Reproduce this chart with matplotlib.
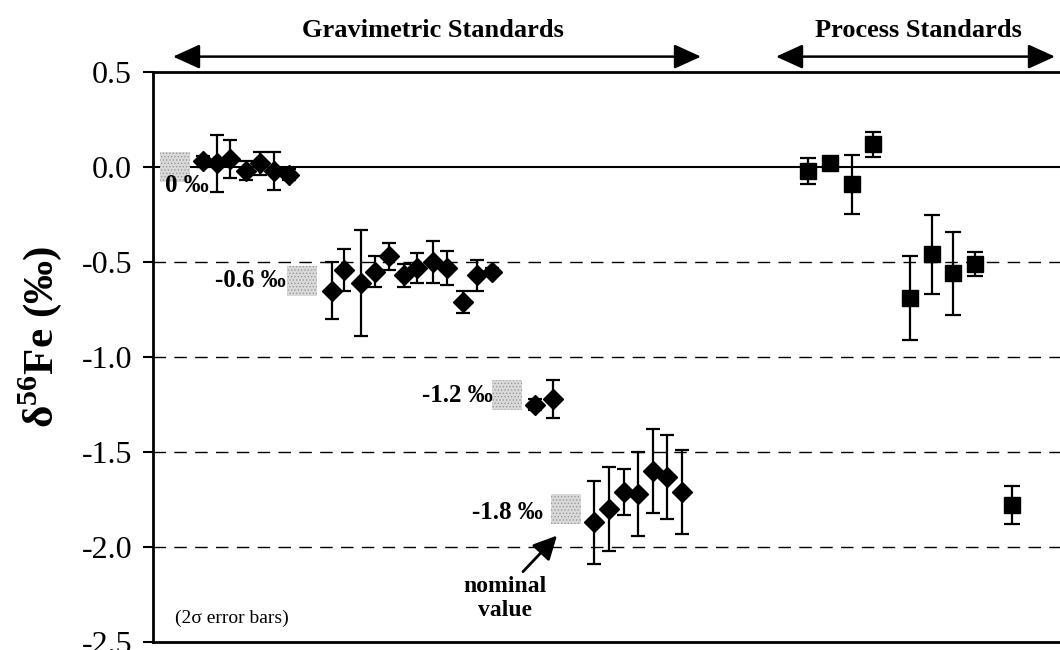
import numpy as np
import matplotlib
matplotlib.use("Agg")
import matplotlib.pyplot as plt

# データ ---------------------------------------------------------------
# x は測定順の位置 (任意単位)
x_g0 = [5.0, 6.4, 7.7, 9.3, 10.7, 12.1, 13.6]
y_g0 = [0.03, 0.02, 0.04, -0.02, 0.02, -0.02, -0.04]
e_g0 = [0.03, 0.15, 0.10, 0.05, 0.06, 0.10, 0.03]

x_g06 = [17.9, 19.1, 20.8, 22.2, 23.6, 25.1, 26.4, 28.0, 29.4, 31.0, 32.4, 33.9]
y_g06 = [-0.65, -0.54, -0.61, -0.55, -0.47, -0.57, -0.53, -0.50, -0.53, -0.71, -0.57, -0.55]
e_g06 = [0.15, 0.11, 0.28, 0.08, 0.07, 0.06, 0.08, 0.11, 0.09, 0.06, 0.08, 0.02]

x_g12 = [38.2, 40.0]
y_g12 = [-1.25, -1.22]
e_g12 = [0.03, 0.10]

x_g18 = [44.1, 45.6, 47.1, 48.5, 50.0, 51.4, 52.9]
y_g18 = [-1.87, -1.80, -1.71, -1.72, -1.60, -1.63, -1.71]
e_g18 = [0.22, 0.22, 0.12, 0.22, 0.22, 0.22, 0.22]

x_proc = [65.5, 67.7, 69.9, 72.0, 75.7, 77.9, 80.0, 82.2, 85.9]
y_proc = [-0.02, 0.02, -0.09, 0.12, -0.69, -0.46, -0.56, -0.51, -1.78]
e_proc = [0.07, 0.02, 0.155, 0.065, 0.22, 0.21, 0.22, 0.065, 0.10]

# 公称値 (nominal value)
x_nom = [2.2, 14.9, 35.4, 41.3]
y_nom = [0.0, -0.6, -1.2, -1.8]
nom_labels = ["0 ‰", "-0.6 ‰", "-1.2 ‰", "-1.8 ‰"]

yticks = [0.5, 0.0, -0.5, -1.0, -1.5, -2.0, -2.5]
dash_levels = [-0.5, -1.0, -1.5, -2.0]

# 体裁 ---------------------------------------------------------------
plt.rcParams['font.family'] = ['Liberation Serif', 'DejaVu Serif']
plt.rcParams['mathtext.fontset'] = 'custom'
plt.rcParams['mathtext.rm'] = 'Liberation Serif'
plt.rcParams['mathtext.bf'] = 'Liberation Serif:bold'
plt.rcParams['hatch.linewidth'] = 0.6

fig = plt.figure(figsize=(10.6, 6.5), dpi=100)
ax = fig.add_axes([153 / 1060, 8 / 650, 907 / 1060, 570 / 650])
ax.set_xlim(0, 90.7)
ax.set_ylim(-2.5, 0.5)

ax.axhline(0.0, color='black', lw=1.5, zorder=1)
for lev in dash_levels:
    ax.axhline(lev, color='black', lw=1.0, dashes=(9, 6), zorder=1)

# 公称値の四角
ax.scatter(x_nom, y_nom, marker='s', s=21 ** 2, facecolor='#d9d9d9',
           edgecolor='#9a9a9a', hatch='.....', linewidths=0, zorder=2)

ebkw = dict(fmt='D', color='black', ms=10.5, elinewidth=1.6, capsize=5,
            capthick=1.6, zorder=3)
for xs, ys, es in [(x_g0, y_g0, e_g0), (x_g06, y_g06, e_g06),
                   (x_g12, y_g12, e_g12), (x_g18, y_g18, e_g18)]:
    ax.errorbar(xs, ys, yerr=es, **ebkw)

ax.errorbar(x_proc, y_proc, yerr=e_proc, fmt='s', color='black', ms=12,
            elinewidth=1.6, capsize=5.5, capthick=1.6, zorder=3)

# 公称値のラベル
tkw = dict(fontsize=18, fontweight='bold', va='center')
ax.text(1.2, -0.095, nom_labels[0], ha='left', **tkw)
ax.text(13.3, -0.595, nom_labels[1], ha='right', **tkw)
ax.text(34.0, -1.205, nom_labels[2], ha='right', **tkw)
ax.text(39.0, -1.82, nom_labels[3], ha='right', **tkw)

ax.annotate("", xy=(40.4, -1.94), xytext=(37.0, -2.13),
            arrowprops=dict(arrowstyle='-|>,head_length=0.9,head_width=0.45',
                            color='black', lw=2, mutation_scale=16,
                            shrinkA=0, shrinkB=0))
ax.text(35.2, -2.27, "nominal\nvalue", ha='center', va='center',
        fontsize=17, fontweight='bold', linespacing=1.15)

ax.text(2.2, -2.375, "(2σ error bars)", fontsize=14, ha='left', va='center')

# 上の矢印と見出し
for x0, x1, xc, label in [(2.0, 54.8, 28.0, "Gravimetric Standards"),
                          (62.3, 90.2, 76.5, "Process Standards")]:
    ax.annotate("", xy=(x1, 1.027), xytext=(x0, 1.027),
                xycoords=('data', 'axes fraction'),
                textcoords=('data', 'axes fraction'), annotation_clip=False,
                arrowprops=dict(arrowstyle='<|-|>,head_length=1.1,head_width=0.5',
                                color='black', lw=1.8, mutation_scale=15,
                                shrinkA=0, shrinkB=0))
    ax.text(xc, 1.072, label, transform=ax.get_xaxis_transform(),
            ha='center', va='center', fontsize=19, fontweight='bold')

# 軸
ax.set_yticks(yticks)
ax.set_yticklabels([f"{t:.1f}" for t in yticks])
ax.set_xticks([])
ax.tick_params(axis='y', direction='out', length=7, width=1.5,
               labelsize=23, pad=8)
for side in ['left', 'top', 'bottom']:
    ax.spines[side].set_linewidth(2)
ax.spines['right'].set_visible(False)

ax.text(-0.125, 0.535, "δ$^{\\mathbf{56}}$Fe (‰)", transform=ax.transAxes,
        rotation=90, ha='center', va='center', fontsize=31, fontweight='bold')

fig.savefig("out.png", dpi=100)
